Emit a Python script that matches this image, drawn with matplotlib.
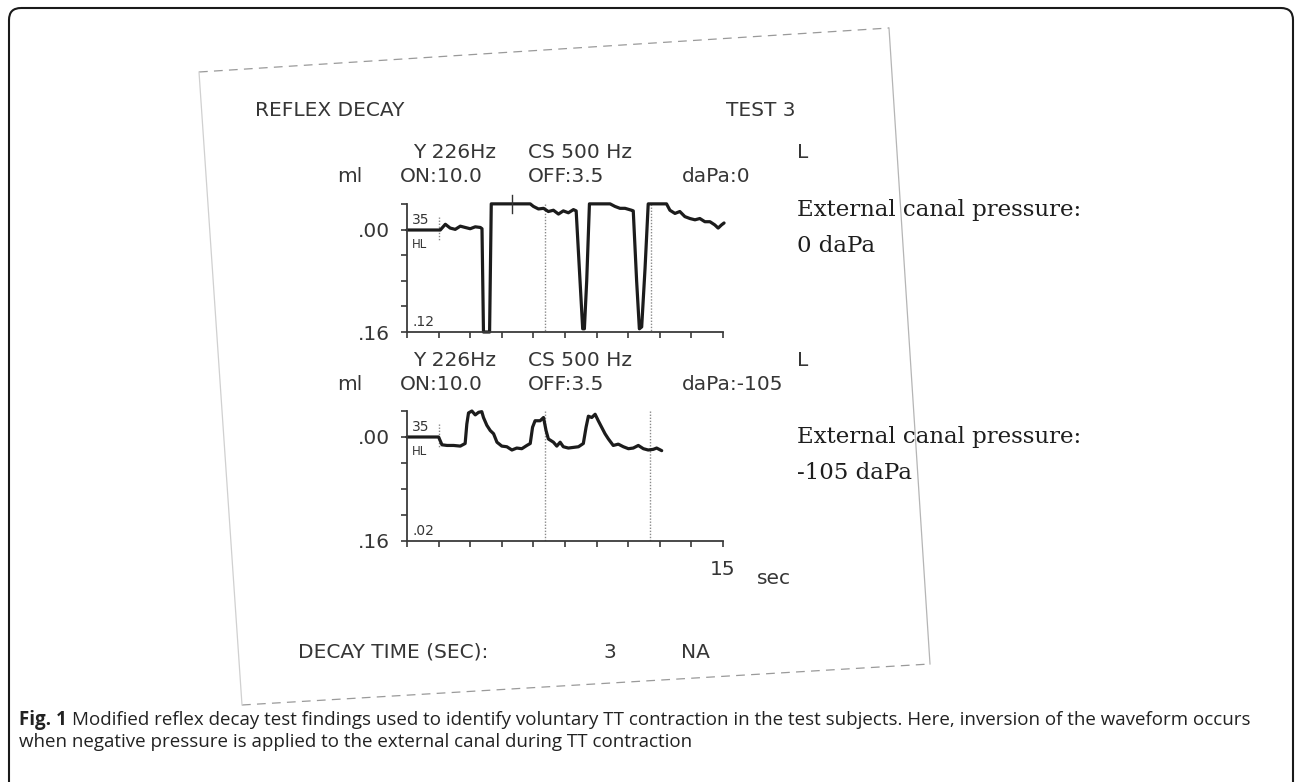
import matplotlib.pyplot as plt
from matplotlib.patches import FancyBboxPatch

W, H = 1295, 782

# compliance trace: time (s), change (ml)
t_0dapa = [0.00, 1.50, 1.58, 1.82, 2.05, 2.29, 2.53, 2.76, 3.00, 3.24,
           3.48, 3.56, 3.63, 3.92, 4.00, 5.85, 6.00, 6.24, 6.48, 6.71,
           6.95, 7.19, 7.42, 7.66, 7.90, 8.03, 8.18, 8.34, 8.42, 8.53,
           8.66, 9.64, 9.87, 10.11, 10.35, 10.66, 10.74, 10.90, 11.03, 11.14,
           11.30, 11.45, 12.32, 12.48, 12.72, 12.95, 13.19, 13.43, 13.67, 13.90,
           14.14, 14.38, 14.61, 14.77, 14.93, 15.05]
ml_0dapa = [0.000, 0.000, 0.000, -0.009, -0.003, -0.001, -0.006, -0.004, -0.002, -0.005,
            -0.004, -0.002, 0.160, 0.160, -0.041, -0.041, -0.037, -0.033, -0.034, -0.029,
            -0.031, -0.025, -0.030, -0.027, -0.032, -0.030, 0.060, 0.155, 0.155, 0.080,
            -0.041, -0.041, -0.037, -0.034, -0.034, -0.031, -0.030, 0.080, 0.155, 0.152,
            0.060, -0.041, -0.041, -0.031, -0.026, -0.029, -0.021, -0.018, -0.016, -0.018,
            -0.013, -0.013, -0.008, -0.003, -0.008, -0.011]

t_105dapa = [0.00, 1.50, 1.66, 1.90, 2.21, 2.53, 2.76, 2.84, 2.92, 3.08,
             3.24, 3.40, 3.55, 3.63, 3.79, 3.95, 4.11, 4.27, 4.50, 4.74,
             4.98, 5.21, 5.45, 5.69, 5.85, 5.96, 6.08, 6.32, 6.48, 6.60,
             6.71, 6.95, 7.11, 7.27, 7.42, 7.66, 7.90, 8.14, 8.37, 8.50,
             8.61, 8.77, 8.93, 9.08, 9.24, 9.40, 9.56, 9.79, 10.03, 10.27,
             10.51, 10.74, 10.98, 11.22, 11.45, 11.69, 11.85, 12.09]
ml_105dapa = [0.000, 0.000, 0.012, 0.013, 0.013, 0.014, 0.010, -0.020, -0.037, -0.040,
              -0.034, -0.038, -0.039, -0.030, -0.018, -0.010, -0.005, 0.008, 0.014, 0.015,
              0.020, 0.017, 0.018, 0.013, 0.010, -0.015, -0.025, -0.025, -0.030, -0.010,
              0.003, 0.008, 0.014, 0.008, 0.015, 0.017, 0.016, 0.015, 0.010, -0.015,
              -0.032, -0.030, -0.035, -0.025, -0.015, -0.005, 0.003, 0.013, 0.011, 0.015,
              0.018, 0.017, 0.013, 0.018, 0.020, 0.019, 0.017, 0.021]

markers_0dapa = [6.55, 11.6]
markers_105dapa = [6.55, 11.53]
stim_start = 1.5
cursor_0dapa = 4.98

x_ticks = [0, 1.5, 3, 4.5, 6, 7.5, 9, 10.5, 12, 13.5, 15]
y_ticks = [-0.04, 0, 0.04, 0.08, 0.12, 0.16]
y_tick_labels = ["", ".00", "", "", "", ".16"]
x_tick_labels = [""] * 10 + ["15"]

header_freq = ["Y 226Hz", "CS 500 Hz", "L"]
header_0dapa = ["ml", "ON:10.0", "OFF:3.5", "daPa:0"]
header_105dapa = ["ml", "ON:10.0", "OFF:3.5", "daPa:-105"]
inner_0dapa = ["35", "HL", ".12"]
inner_105dapa = ["35", "HL", ".02"]
notes = [["External canal pressure:", "0 daPa"],
         ["External canal pressure:", "-105 daPa"]]
decay_row = ["DECAY TIME (SEC):", "3", "NA"]
caption_bold = "Fig. 1"
caption_1 = ("Modified reflex decay test findings used to identify voluntary TT "
             "contraction in the test subjects. Here, inversion of the waveform occurs")
caption_2 = "when negative pressure is applied to the external canal during TT contraction"

INK = "#363636"
PRINT = ["DejaVu Sans"]
SERIF = ["DejaVu Serif"]
CAP = ["Open Sans", "DejaVu Sans"]


def px_axes(fig, left, top, right, bottom):
    return fig.add_axes([left / W, 1 - bottom / H, (right - left) / W, (bottom - top) / H])


def draw_trace(ax, t, ml, markers, inner, show_15):
    ax.set_facecolor("none")
    ax.set_xlim(0, 15)
    ax.set_ylim(0.16, -0.04)
    for side in ("top", "right"):
        ax.spines[side].set_visible(False)
    for side in ("left", "bottom"):
        ax.spines[side].set_color("#3a3a3a")
        ax.spines[side].set_linewidth(1.3)
    ax.set_xticks(x_ticks)
    ax.set_xticklabels(x_tick_labels if show_15 else [""] * len(x_ticks))
    ax.set_yticks(y_ticks)
    ax.set_yticklabels(y_tick_labels)
    ax.tick_params(direction="out", length=4.5, width=1.2, color="#3a3a3a",
                   labelsize=14.5, labelcolor=INK, pad=8)
    ax.tick_params(axis="x", pad=9)
    for lab in ax.get_xticklabels() + ax.get_yticklabels():
        lab.set_family(PRINT)

    for m in markers:
        ax.plot([m, m], [-0.04, 0.16], color="#8a8a8a", lw=1.0, ls=(0, (1, 1.2)))
    ax.plot([stim_start, stim_start], [-0.02, 0.016], color="#8a8a8a", lw=1.0, ls=(0, (1, 1.2)))
    ax.plot(t, ml, color="#1c1c1c", lw=2.3, clip_on=False,
            solid_joinstyle="round", solid_capstyle="round")

    ax.text(0.24, -0.0155, inner[0], fontsize=10, color=INK, va="center", family=PRINT)
    ax.text(0.24, 0.0225, inner[1], fontsize=8.5, color=INK, va="center", family=PRINT)
    ax.text(0.24, 0.145, inner[2], fontsize=10, color=INK, va="center", family=PRINT)


def main():
    fig = plt.figure(figsize=(W / 100, H / 100), dpi=100)
    page = fig.add_axes([0, 0, 1, 1])
    page.set_xlim(0, W)
    page.set_ylim(H, 0)
    page.axis("off")

    # outer frame of the figure panel
    page.add_patch(FancyBboxPatch((9, 8), 1284, 800, boxstyle="round,pad=0,rounding_size=12",
                                  fc="none", ec="#1a1a1a", lw=1.5))

    # edges of the scanned (slightly rotated) sheet
    tl, tr, br, bl = (199, 72), (889, 28), (930, 664), (242, 705)
    page.plot([tl[0], tr[0]], [tl[1], tr[1]], color="#9a9a9a", lw=0.9, ls=(0, (7, 5)))
    page.plot([bl[0], br[0]], [bl[1], br[1]], color="#9a9a9a", lw=0.9, ls=(0, (7, 5)))
    page.plot([tr[0], br[0]], [tr[1], br[1]], color="#b5b5b5", lw=0.9)
    page.plot([tl[0], bl[0]], [tl[1], bl[1]], color="#d0d0d0", lw=0.9)

    pkw = dict(fontsize=14.5, color=INK, va="center", family=PRINT)
    page.text(255, 110, "REFLEX DECAY", **pkw)
    page.text(726, 110, "TEST 3", **pkw)

    for y0, row in ((152, header_0dapa), (360, header_105dapa)):
        page.text(413, y0, header_freq[0], **pkw)
        page.text(528, y0, header_freq[1], **pkw)
        page.text(797, y0, header_freq[2], **pkw)
        page.text(337, y0 + 25, row[0], **pkw)
        page.text(400, y0 + 25, row[1], **pkw)
        page.text(528, y0 + 25, row[2], **pkw)
        page.text(682, y0 + 25, row[3], **pkw)

    page.text(757, 578, "sec", **pkw)
    page.text(298, 652, decay_row[0], **pkw)
    page.text(603, 652, decay_row[1], **pkw)
    page.text(681, 652, decay_row[2], **pkw)

    skw = dict(fontsize=16.5, color="#1e1e1e", va="center", family=SERIF)
    for y0, lines in ((210, notes[0]), (437, notes[1])):
        page.text(797, y0, lines[0], **skw)
        page.text(797, y0 + 36, lines[1], **skw)

    ax1 = px_axes(fig, 407, 204.5, 723, 332)
    draw_trace(ax1, t_0dapa, ml_0dapa, markers_0dapa, inner_0dapa, False)
    ax1.plot([cursor_0dapa, cursor_0dapa], [-0.055, -0.026], color="#333", lw=1.0, clip_on=False)

    ax2 = px_axes(fig, 407, 411, 723, 541)
    draw_trace(ax2, t_105dapa, ml_105dapa, markers_105dapa, inner_105dapa, True)

    # caption, bold lead-in followed by regular text, scaled to the panel width
    fig.canvas.draw()
    r = fig.canvas.get_renderer()

    def width(s, size, weight="normal"):
        tt = page.text(0, 0, s, fontsize=size, weight=weight, family=CAP)
        w = tt.get_window_extent(r).width
        tt.remove()
        return w

    size = 11.0
    gap = 0.28 * size * 100 / 72
    total = width(caption_bold, size, "bold") + gap + width(caption_1, size)
    size *= (1254 - 19) / total
    bw = width(caption_bold, size, "bold")
    gap = 0.28 * size * 100 / 72
    ckw = dict(fontsize=size, color="#222222", va="center", family=CAP)
    page.text(19, 720, caption_bold, weight="bold", **ckw)
    page.text(19 + bw + gap, 720, caption_1, **ckw)
    page.text(19, 742, caption_2, **ckw)

    fig.savefig("out.png", dpi=100)


if __name__ == "__main__":
    main()
